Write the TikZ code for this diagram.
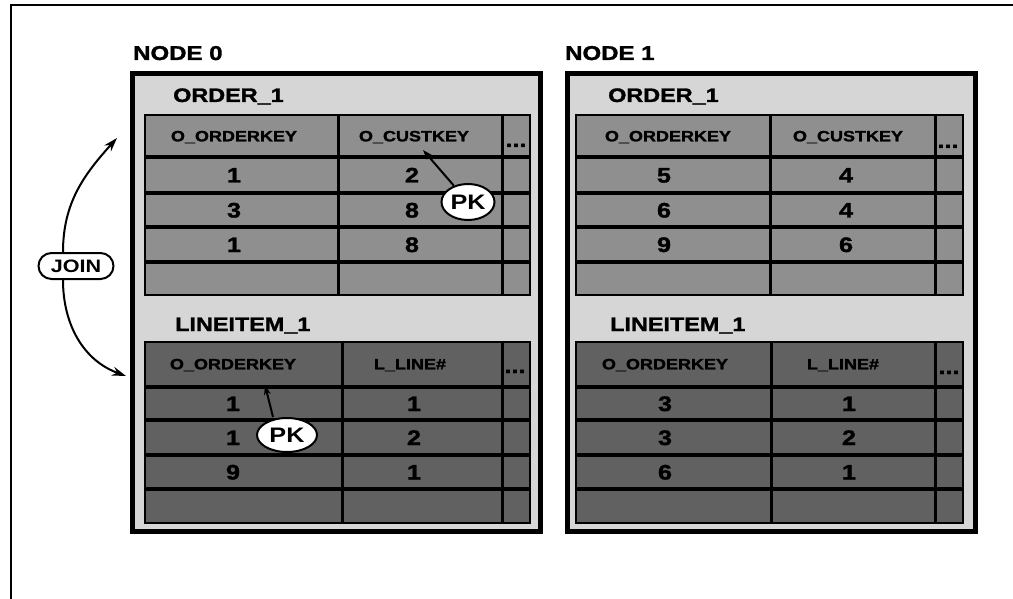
\documentclass[tikz,border=0pt]{standalone}
\usepackage{fontspec}
\setmainfont{Liberation Sans}
\newfontfamily\wfont[FakeStretch=1.2]{Liberation Sans}
\newfontfamily\hfont[FakeStretch=1.2,FakeBold=1.5]{Liberation Sans Bold}
\usetikzlibrary{shapes.geometric,arrows.meta}
\definecolor{boxgray}{gray}{0.84}
\definecolor{ordgray}{gray}{0.56}
\definecolor{ligray}{gray}{0.38}
\newcommand\mytgrid[8]{%
  \fill[#1] (#2,#6) rectangle (#5,#7);
  \foreach \yy in {#8} \draw[rowline] (#2,\yy) -- (#5,\yy);
  \draw[colline] (#3,#6) -- (#3,#7);
  \draw[colline] (#4,#6) -- (#4,#7);
  \draw[tabborder] (#2,#6) rectangle (#5,#7);}
\begin{document}
\begin{tikzpicture}[x=1pt,y=-1pt,
  frame/.style={line width=1.5pt},
  nodebox/.style={draw=black,line width=5pt,fill=boxgray},
  rowline/.style={line width=3.5pt},
  colline/.style={line width=3pt},
  tabborder/.style={draw=black,line width=1.5pt},
  title/.style={anchor=base west,inner sep=0pt,font=\hfont\fontsize{20}{24}\selectfont},
  tname/.style={anchor=base west,inner sep=0pt,font=\hfont\fontsize{19.5}{24}\selectfont},
  hdr/.style={inner sep=0pt,text height=10.7pt,text depth=0pt,font=\hfont\fontsize{15}{18}\selectfont},
  num/.style={inner sep=0pt,text height=15pt,text depth=0pt,font=\hfont\fontsize{21}{24}\selectfont},
  dots/.style={anchor=base,inner sep=0pt,font=\hfont\fontsize{21}{24}\selectfont},
  pk/.style={ellipse,draw,line width=2pt,fill=white,minimum width=53pt,minimum height=36pt,inner sep=0pt,font=\wfont\bfseries\fontsize{21}{24}\selectfont},
  joinbox/.style={draw,line width=2pt,rounded corners=13pt,fill=white,minimum width=75pt,minimum height=26pt,inner sep=0pt,font=\wfont\bfseries\fontsize{18}{22}\selectfont},
  bigarrow/.style={line width=2pt,-{Stealth[length=14pt,width=9pt]}},
  pkarrow/.style={line width=2pt,-{Stealth[length=10pt,width=7pt]}}
]
\useasboundingbox (0,0) rectangle (1013,599);
% outer frame (top and left only)
\draw[frame] (11,599) -- (11,5) -- (1013,5);

% node boxes
\draw[nodebox] (132,74) rectangle (540,531);
\draw[nodebox] (567,74) rectangle (975,531);

% tables
\mytgrid{ordgray}{145}{338}{502}{530}{115}{295}{157,193,227,262}
\mytgrid{ligray}{145}{342}{502}{530}{342}{523}{387,420,455,489}
\mytgrid{ordgray}{576}{770}{935}{963}{115}{295}{157,193,227,262}
\mytgrid{ligray}{576}{771}{935}{963}{342}{523}{387,420,455,489}

% titles
\node[title] (t0) at (133,60) {NODE 0};
\node[title] (t1) at (565,60) {NODE 1};
\node[tname] (o0) at (173,102) {ORDER\_1};
\node[tname] (o1) at (608,102) {ORDER\_1};
\node[tname] (l0) at (175,331) {LINEITEM\_1};
\node[tname] (l1) at (610,331) {LINEITEM\_1};

% node 0 ORDER_1
\node[hdr] (h0a) at (234,136) {O\_ORDERKEY};
\node[hdr] (h0b) at (414,136) {O\_CUSTKEY};
\node[dots] (d0a) at (516,147) {...};
\node[num] (a01) at (234,175) {1};
\node[num] (a02) at (412,175) {2};
\node[num] (a03) at (234,210) {3};
\node[num] (a04) at (412,210) {8};
\node[num] (a05) at (234,244.5) {1};
\node[num] (a06) at (412,244.5) {8};

% node 0 LINEITEM_1
\node[hdr] (h0c) at (233,364) {O\_ORDERKEY};
\node[hdr] (h0d) at (410,364) {L\_LINE\#};
\node[dots] (d0b) at (515,373) {...};
\node[num] (b01) at (233,403.5) {1};
\node[num] (b02) at (414,403.5) {1};
\node[num] (b03) at (233,437.5) {1};
\node[num] (b04) at (414,437.5) {2};
\node[num] (b05) at (233,472) {9};
\node[num] (b06) at (414,472) {1};

% node 1 ORDER_1
\node[hdr] (h1a) at (668,136) {O\_ORDERKEY};
\node[hdr] (h1b) at (848,136) {O\_CUSTKEY};
\node[dots] (d1a) at (948,148) {...};
\node[num] (c01) at (664,175) {5};
\node[num] (c02) at (846,175) {4};
\node[num] (c03) at (664,210) {6};
\node[num] (c04) at (846,210) {4};
\node[num] (c05) at (664,244.5) {9};
\node[num] (c06) at (846,244.5) {6};

% node 1 LINEITEM_1
\node[hdr] (h1c) at (665,364) {O\_ORDERKEY};
\node[hdr] (h1d) at (843,364) {L\_LINE\#};
\node[dots] (d1b) at (949,374) {...};
\node[num] (e01) at (665,403.5) {3};
\node[num] (e02) at (849,403.5) {1};
\node[num] (e03) at (665,437.5) {3};
\node[num] (e04) at (849,437.5) {2};
\node[num] (e05) at (665,472) {6};
\node[num] (e06) at (849,472) {1};

% PK callouts
\node[pk] (pk1) at (468,202) {PK};
\node[pk,minimum width=60pt,minimum height=34pt] (pk2) at (287,435) {PK};
\coordinate (pt1) at (423,150);
\coordinate (pt2) at (265,385);
\draw[pkarrow] (pk1) -- (pt1);
\draw[pkarrow] ([xshift=-14pt]pk2.north) -- (pt2);

% JOIN
\node[joinbox] (join) at (76,266) {JOIN};
\coordinate (jt1) at (117,138);
\coordinate (jt2) at (126,376);
\draw[bigarrow] ([xshift=-13pt]join.north) to[out=90,in=228] (jt1);
\draw[bigarrow] ([xshift=-13pt]join.south) to[out=-90,in=160] (jt2);
\end{tikzpicture}
\end{document}
